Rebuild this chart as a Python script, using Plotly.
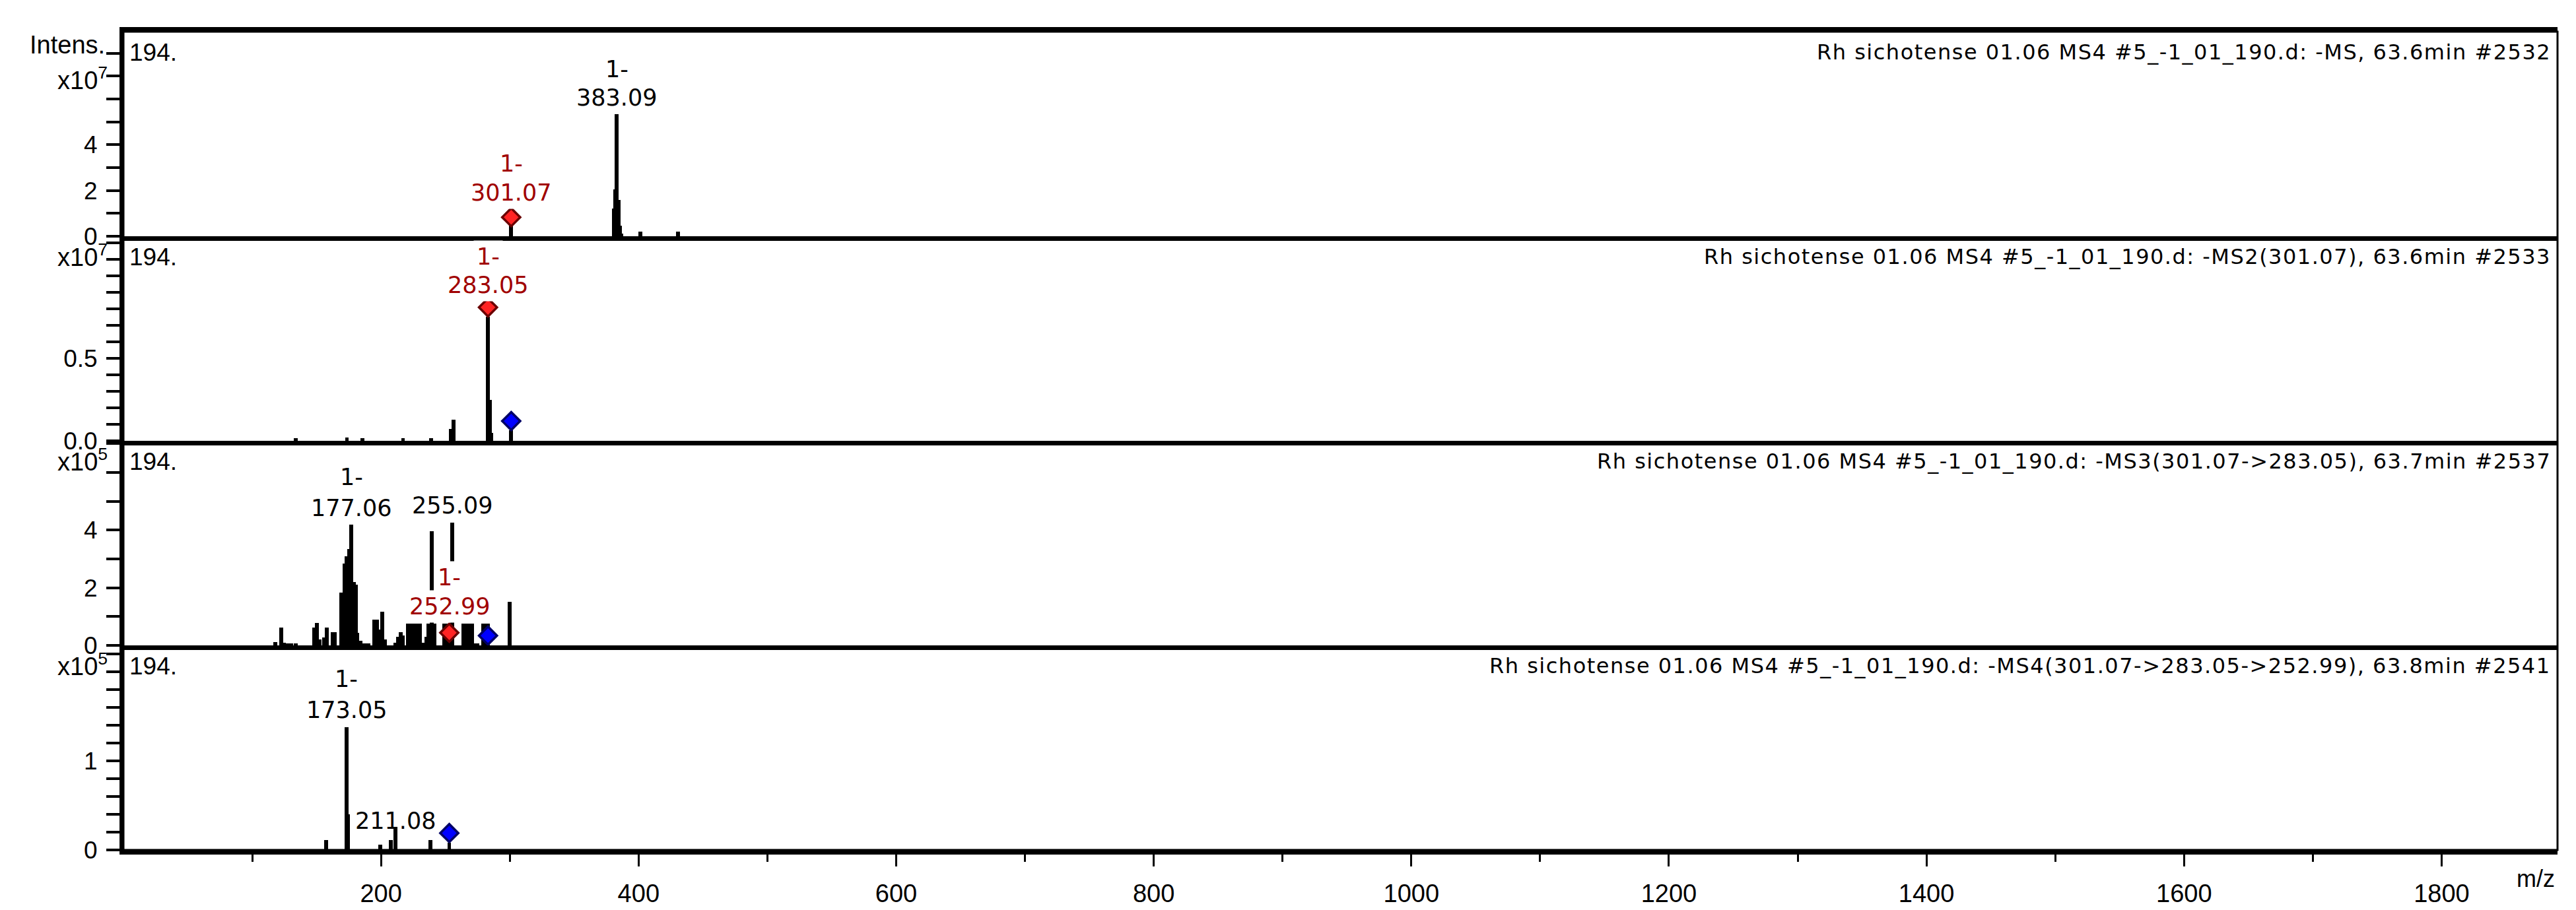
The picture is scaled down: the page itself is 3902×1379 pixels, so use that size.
import plotly.graph_objects as go
from plotly.subplots import make_subplots

# peak lists, intensities in the unit of each panel's axis
ms1_mz = [301.07, 381.0, 382.0, 383.09, 384.3, 385.5, 386.8, 401.2, 430.7]
ms1_int = [0.57, 1.2, 2.05, 5.34, 1.6, 0.45, 0.12, 0.2, 0.2]          # x10^7

ms2_mz = [133.9, 173.5, 185.5, 217.1, 238.8, 254.3, 256.4, 283.05, 284.6, 285.8, 301.07]
ms2_int = [0.015, 0.02, 0.015, 0.015, 0.015, 0.074, 0.127, 0.754, 0.25, 0.05, 0.066]  # x10^7

ms3_mz = [118.0, 122.3, 124.5, 127.0, 130.0, 134.0, 147.9, 150.1, 152.5, 155.6, 157.7,
          162.5, 164.3, 169.2, 171.5, 173.4, 175.2, 177.06, 178.8, 180.3, 181.6, 184.0,
          187.0, 190.0, 195.0, 197.0, 199.0, 201.0, 203.0, 211.0, 213.3, 215.4, 217.0,
          221.0, 223.0, 225.0, 226.5, 228.5, 230.4, 233.0, 235.0, 236.7, 238.0, 239.3,
          241.5, 249.0, 251.0, 252.99, 255.09, 264.0, 266.5, 269.0, 270.5, 273.5, 275.0,
          279.5, 281.5, 283.05, 299.9]
ms3_int = [0.11, 0.61, 0.1, 0.08, 0.08, 0.08, 0.61, 0.78, 0.2, 0.27, 0.61,
           0.46, 0.46, 1.84, 2.84, 3.1, 3.34, 4.2, 2.2, 2.1, 0.44, 0.15,
           0.08, 0.06, 0.9, 0.9, 0.56, 1.17, 0.2, 0.1, 0.29, 0.46, 0.35,
           0.75, 0.75, 0.75, 0.75, 0.75, 0.75, 0.1, 0.29, 0.75, 0.75, 3.97,
           0.75, 0.75, 0.75, 0.75, 4.25, 0.75, 0.75, 0.75, 0.75, 0.08, 0.08,
           0.75, 0.75, 0.75, 1.51]                                            # x10^5

ms4_mz = [157.3, 173.05, 174.5, 199.2, 207.7, 211.08, 238.4, 252.99]
ms4_int = [0.11, 1.38, 0.4, 0.06, 0.115, 0.26, 0.11, 0.08]                  # x10^5

spectra = [(ms1_mz, ms1_int), (ms2_mz, ms2_int), (ms3_mz, ms3_int), (ms4_mz, ms4_int)]

titles = [
    "Rh sichotense 01.06 MS4 #5_-1_01_190.d: -MS, 63.6min #2532",
    "Rh sichotense 01.06 MS4 #5_-1_01_190.d: -MS2(301.07), 63.6min #2533",
    "Rh sichotense 01.06 MS4 #5_-1_01_190.d: -MS3(301.07->283.05), 63.7min #2537",
    "Rh sichotense 01.06 MS4 #5_-1_01_190.d: -MS4(301.07->283.05->252.99), 63.8min #2541",
]
exponents = ["7", "7", "5", "5"]
y_max = [8.94, 1.242, 7.1, 2.3]
y_major = [[0, 2, 4], [0, 0.5], [0, 2, 4], [0, 1]]
y_major_text = [["0", "2", "4"], ["0.0", "0.5"], ["0", "2", "4"], ["0", "1"]]
y_minor = [[0, 1, 2, 3, 4, 5, 6, 7, 8],
           [0, 0.1, 0.2, 0.3, 0.4, 0.5, 0.6, 0.7, 0.8, 0.9, 1.0, 1.1, 1.2],
           [0, 1, 2, 3, 4, 5, 6, 7],
           [0, 0.2, 0.4, 0.6, 0.8, 1.0, 1.2, 1.4, 1.6, 1.8, 2.0, 2.2]]

# precursor markers (red = isolated for next stage, blue = current precursor)
red_row = [1, 2, 3]
red_mz = [301.07, 283.05, 252.99]
red_y = [0.83, 0.81, 0.44]
blue_row = [2, 3, 4]
blue_mz = [301.07, 283.05, 252.99]
blue_y = [0.12, 0.34, 0.19]

# peak labels, one entry per text line: (row, text, m/z, y, precursor?)
peak_labels = [
    (1, "1-", 383.09, 7.31, False), (1, "383.09", 383.09, 6.06, False),
    (1, "1-", 301.07, 3.17, True), (1, "301.07", 301.07, 1.89, True),
    (2, "1-", 283.05, 1.118, True), (2, "283.05", 283.05, 0.945, True),
    (3, "1-", 177.06, 5.84, False), (3, "177.06", 177.06, 4.77, False),
    (3, "255.09", 255.09, 4.85, False),
    (3, "1-", 252.99, 2.37, True), (3, "252.99", 252.99, 1.34, True),
    (4, "1-", 173.05, 1.92, False), (4, "173.05", 173.05, 1.576, False),
    (4, "211.08", 211.08, 0.326, False),
]

x_major = [200, 400, 600, 800, 1000, 1200, 1400, 1600, 1800]
x_minor = [100, 300, 500, 700, 900, 1100, 1300, 1500, 1700]

LABEL_RED = "#a00000"
AXFONT = "Liberation Sans"

fig = make_subplots(rows=4, cols=1, shared_xaxes=True, vertical_spacing=0)

for i, (mz, inten) in enumerate(spectra):
    fig.add_trace(go.Bar(x=mz, y=inten, width=3.0, marker=dict(color="black", line_width=0),
                         showlegend=False, hoverinfo="skip"), row=i + 1, col=1)

for r, m, y in zip(red_row, red_mz, red_y):
    fig.add_trace(go.Scatter(x=[m], y=[y], mode="markers", showlegend=False,
                             marker=dict(symbol="diamond", size=21, color="#ff2424",
                                         line=dict(color="#6a0000", width=3.5))), row=r, col=1)
for r, m, y in zip(blue_row, blue_mz, blue_y):
    fig.add_trace(go.Scatter(x=[m], y=[y], mode="markers", showlegend=False,
                             marker=dict(symbol="diamond", size=21, color="#0000ff",
                                         line=dict(color="#000066", width=3.5))), row=r, col=1)

for i in range(4):
    row = i + 1
    fig.update_yaxes(range=[0, y_max[i]], showgrid=False, zeroline=False,
                     showline=True, linewidth=6, linecolor="black",
                     ticks="outside", ticklen=20, tickwidth=4, tickcolor="black",
                     tickmode="array", tickvals=y_major[i], ticktext=y_major_text[i],
                     minor=dict(tickmode="array", tickvals=y_minor[i], ticks="outside",
                                ticklen=20, tickwidth=4, tickcolor="black"),
                     tickfont=dict(family=AXFONT, size=37, color="black"),
                     ticklabelstandoff=6, row=row, col=1)
    xa = dict(range=[0, 1890], showgrid=False, zeroline=False, showline=True,
              linewidth=7, linecolor="black")
    if row == 4:
        xa.update(ticks="outside", ticklen=18, tickwidth=3, tickcolor="black",
                  tickmode="array", tickvals=x_major, showticklabels=True,
                  tickfont=dict(family=AXFONT, size=38, color="black"),
                  ticklabelstandoff=8,
                  minor=dict(tickmode="array", tickvals=x_minor, ticks="outside",
                             ticklen=11, tickwidth=3, tickcolor="black"))
    else:
        xa.update(ticks="", showticklabels=False)
    if row == 1:
        xa.update(mirror=True)
    fig.update_xaxes(row=row, col=1, **xa)

annotations = []
for i in range(4):
    dom = "y domain" if i == 0 else "y%d domain" % (i + 1)
    annotations.append(dict(xref="paper", yref=dom, x=0.0019, y=0.90, xanchor="left",
                            yanchor="middle", text="194.", showarrow=False,
                            font=dict(family=AXFONT, size=37, color="black")))
    annotations.append(dict(xref="paper", yref=dom, x=0.9978, y=0.90, xanchor="right",
                            yanchor="middle", showarrow=False,
                            text='<span style="letter-spacing:1.5px">%s</span>' % titles[i],
                            font=dict(family="DejaVu Sans", size=32, color="black")))
    ey = 0.77 if i == 0 else 0.905
    annotations.append(dict(xref="paper", yref=dom, x=-0.006, y=ey, xanchor="right",
                            yanchor="middle", text="x10<sup>%s</sup>" % exponents[i],
                            showarrow=False,
                            font=dict(family=AXFONT, size=38, color="black")))
annotations.append(dict(xref="paper", yref="y domain", x=-0.007, y=0.936, xanchor="right",
                        yanchor="middle", text="Intens.", showarrow=False,
                        font=dict(family=AXFONT, size=38, color="black")))
annotations.append(dict(xref="paper", yref="paper", x=0.9995, y=-0.035, xanchor="right",
                        yanchor="middle", text="m/z", showarrow=False,
                        font=dict(family=AXFONT, size=36, color="black")))

for row, text, m, y, prec in peak_labels:
    xr = "x" if row == 1 else "x%d" % row
    yr = "y" if row == 1 else "y%d" % row
    bg = "rgba(0,0,0,0)" if text == "211.08" else "white"
    annotations.append(dict(xref=xr, yref=yr, x=m, y=y, text=text, showarrow=False,
                            xanchor="center", yanchor="middle", bgcolor=bg, borderpad=4,
                            font=dict(family="DejaVu Sans", size=35,
                                      color=LABEL_RED if prec else "black")))

fig.update_layout(
    width=3902, height=1379,
    margin=dict(l=179, r=36, t=40, b=86),
    paper_bgcolor="white", plot_bgcolor="white",
    bargap=0, barmode="overlay",
    annotations=annotations,
    shapes=[dict(type="rect", xref="paper", yref="paper", x0=0, x1=1, y0=0, y1=1,
                 line=dict(color="black", width=3), layer="below")],
)

fig.write_html("out.html")
